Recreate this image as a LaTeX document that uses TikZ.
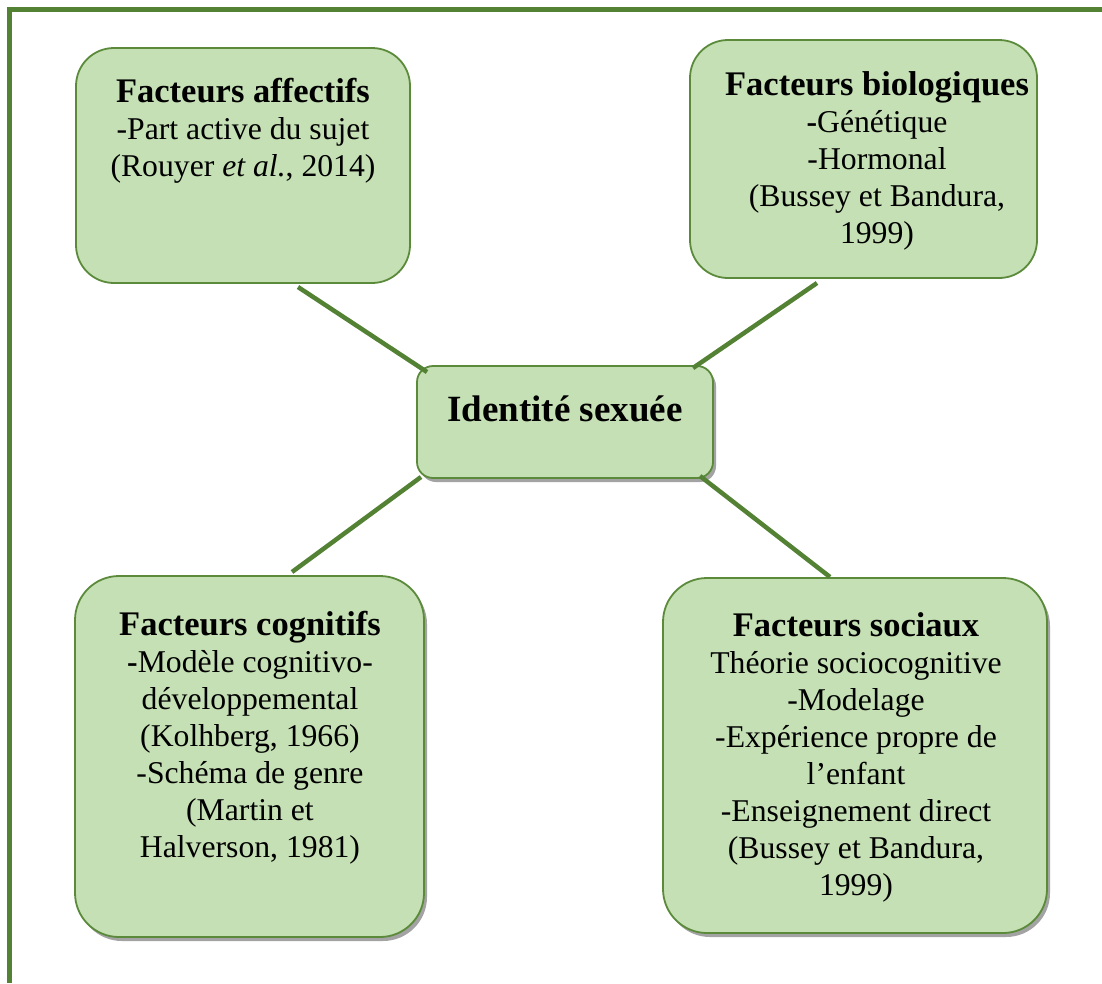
\documentclass[tikz,border=0pt]{standalone}
\usepackage{fontspec}
\setmainfont{Liberation Serif}
\usetikzlibrary{shadows}
\definecolor{boxfill}{HTML}{C5E0B4}
\definecolor{boxline}{HTML}{5A8A3A}
\definecolor{darkgreen}{HTML}{548235}
\definecolor{shadowgray}{HTML}{A3A3A3}
\newcommand{\headfont}{\bfseries\fontsize{34.5}{37}\selectfont}
\begin{document}
\begin{tikzpicture}[x=1pt,y=-1pt,
  box/.style={draw=boxline, line width=1.8pt, fill=boxfill, rounded corners=#1, inner sep=0pt},
  box/.default=38pt,
  shadowed/.style={drop shadow={shadow xshift=3pt, shadow yshift=-4pt, fill=shadowgray, opacity=1}},
  txt/.style={align=center, inner sep=0pt, anchor=base, font=\fontsize{31.7}{37}\selectfont},
  link/.style={draw=darkgreen, line width=4.5pt}]
\useasboundingbox (0,0) rectangle (1102,983);
% frame
\draw[darkgreen, line width=4.5pt] (9.5,983) -- (9.5,9.5) -- (1102,9.5);
% boxes
\node[box, minimum width=334pt, minimum height=235pt] (affectifs) at (243,165.5) {};
\node[box, minimum width=347pt, minimum height=238pt] (biologiques) at (863.5,159) {};
\node[box=16pt, shadowed, minimum width=296pt, minimum height=112pt] (identite) at (565,422) {};
\node[box=44pt, shadowed, minimum width=349pt, minimum height=361pt] (cognitifs) at (249.5,756.5) {};
\node[box=44pt, shadowed, minimum width=384pt, minimum height=355pt] (sociaux) at (855,755.5) {};
% texts (anchored at the baseline of their last line)
\node[txt] (taff) at (243,176) {{\headfont Facteurs affectifs}\\-Part active du sujet\\(Rouyer \textit{et al.}, 2014)};
\node[txt] (tbio) at (877,243) {{\headfont Facteurs biologiques}\\\textbf{-}Génétique\\-Hormonal\\(Bussey et Bandura,\\1999)};
\node[txt, font=\bfseries\fontsize{37}{44}\selectfont] (tid) at (565,421) {Identité sexuée};
\node[txt] (tcog) at (250,857) {{\headfont Facteurs cognitifs}\\\textbf{-}Modèle cognitivo-\\développemental\\(Kolhberg, 1966)\\-Schéma de genre\\(Martin et\\Halverson, 1981)};
\node[txt] (tsoc) at (856,895) {{\headfont Facteurs sociaux}\\Théorie sociocognitive\\-Modelage\\-Expérience propre de\\l’enfant\\-Enseignement direct\\(Bussey et Bandura,\\1999)};
% connector ends
\coordinate (c1a) at (298,287); \coordinate (c1b) at (427,372);
\coordinate (c2a) at (817,283); \coordinate (c2b) at (693,368);
\coordinate (c3a) at (421,477); \coordinate (c3b) at (292,572);
\coordinate (c4a) at (700,476); \coordinate (c4b) at (830,577);
\draw[link] (c1a) -- (c1b);
\draw[link] (c2a) -- (c2b);
\draw[link] (c3a) -- (c3b);
\draw[link] (c4a) -- (c4b);
\end{tikzpicture}
\end{document}
